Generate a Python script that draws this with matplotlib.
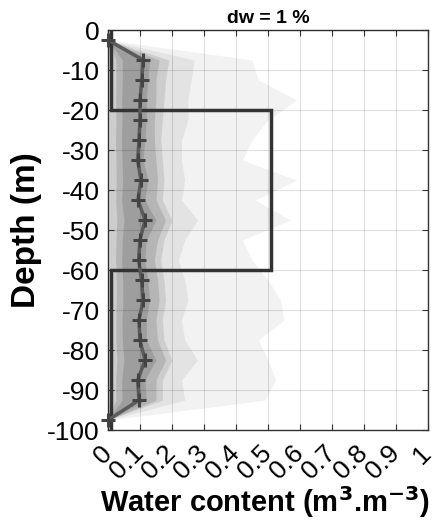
"""
Perfil de contenido de agua - envolventes de percentiles y perfil verdadero
"""

import matplotlib
matplotlib.use('Agg')
import matplotlib.pyplot as plt

plt.rcParams['font.family'] = ['Liberation Sans', 'DejaVu Sans']
plt.rcParams['axes.unicode_minus'] = False

# Profundidades de los puntos del perfil (m)
profundidad = [-2.5, -7.5, -12.5, -17.5, -22.5, -27.5, -32.5, -37.5, -42.5, -47.5,
               -52.5, -57.5, -62.5, -67.5, -72.5, -77.5, -82.5, -87.5, -92.5, -97.5]

# Contenido de agua medio (m3/m3)
wc_medio = [0.0, 0.11, 0.106, 0.10, 0.10, 0.097, 0.093, 0.103, 0.094, 0.116,
            0.10, 0.096, 0.105, 0.11, 0.097, 0.10, 0.116, 0.093, 0.097, 0.0]

# Envolventes (de la mas amplia a la mas estrecha): limite inferior / superior
env1_inf = [0.0] * 20
env1_sup = [0.0, 0.45, 0.47, 0.59, 0.50, 0.45, 0.42, 0.59, 0.46, 0.57,
            0.42, 0.45, 0.50, 0.54, 0.55, 0.47, 0.50, 0.525, 0.49, 0.0]

env2_inf = [0.0] * 20
env2_sup = [0.0, 0.27, 0.26, 0.25, 0.25, 0.23, 0.23, 0.24, 0.23, 0.28,
            0.24, 0.22, 0.24, 0.25, 0.23, 0.24, 0.28, 0.23, 0.24, 0.0]

env3_inf = [0.0, 0.005, 0.005, 0.005, 0.005, 0.005, 0.005, 0.005, 0.005, 0.005,
            0.005, 0.005, 0.005, 0.005, 0.005, 0.005, 0.005, 0.005, 0.005, 0.0]
env3_sup = [0.0, 0.19, 0.18, 0.175, 0.17, 0.165, 0.17, 0.175, 0.17, 0.20,
            0.175, 0.165, 0.175, 0.18, 0.17, 0.175, 0.20, 0.17, 0.17, 0.0]

env4_inf = [0.0, 0.025, 0.025, 0.024, 0.025, 0.024, 0.025, 0.026, 0.024, 0.028,
            0.025, 0.024, 0.026, 0.026, 0.025, 0.025, 0.028, 0.024, 0.025, 0.0]
env4_sup = [0.0, 0.16, 0.15, 0.15, 0.145, 0.145, 0.15, 0.155, 0.15, 0.18,
            0.155, 0.145, 0.155, 0.16, 0.15, 0.155, 0.18, 0.15, 0.15, 0.0]

env5_inf = [0.0, 0.045, 0.045, 0.043, 0.044, 0.042, 0.044, 0.046, 0.043, 0.05,
            0.045, 0.043, 0.046, 0.047, 0.044, 0.045, 0.05, 0.043, 0.044, 0.0]
env5_sup = [0.0, 0.13, 0.125, 0.12, 0.12, 0.115, 0.11, 0.125, 0.115, 0.15,
            0.12, 0.115, 0.125, 0.13, 0.12, 0.12, 0.15, 0.115, 0.12, 0.0]

# Perfil verdadero por capas
capa_techo = [0, -20, -60]
capa_base = [-20, -60, -100]
capa_wc = [0.01, 0.51, 0.01]

etiquetas_x = ['0', '0.1', '0.2', '0.3', '0.4', '0.5', '0.6', '0.7', '0.8', '0.9', '1']

fig = plt.figure(figsize=(4.37, 5.22), dpi=100)
ax = fig.add_axes([0.247, 0.176, 0.732, 0.7665])

envolventes = [
    (env1_inf, env1_sup, '#f2f2f2'),
    (env2_inf, env2_sup, '#e3e3e3'),
    (env3_inf, env3_sup, '#cdcdcd'),
    (env4_inf, env4_sup, '#b5b5b5'),
    (env5_inf, env5_sup, '#9e9e9e'),
]
for inf, sup, color in envolventes:
    ax.fill_betweenx(profundidad, inf, sup, color=color, linewidth=0, zorder=1)

# Perfil verdadero (escalonado)
xs, ys = [], []
for techo, base, wc in zip(capa_techo, capa_base, capa_wc):
    xs += [wc, wc]
    ys += [techo, base]
ax.plot(xs, ys, color='#333333', linewidth=2.5, zorder=4, solid_joinstyle='miter')

# Perfil medio con marcadores
ax.plot(wc_medio, profundidad, color='#5a5a5a', linewidth=2.5, zorder=5)
ax.plot(wc_medio, profundidad, linestyle='none', marker='+', markersize=10,
        markeredgewidth=2.2, color='#444444', zorder=6, clip_on=False)

ax.set_xlim(0, 1)
ax.set_ylim(-100, 0)
ax.set_xticks([i / 10 for i in range(11)])
ax.set_xticklabels(etiquetas_x, rotation=45, ha='right', va='center',
                   rotation_mode='anchor')
ax.set_yticks(range(-100, 1, 10))

ax.tick_params(direction='in', length=4, width=0.8, color='#333333',
               top=True, right=True, labelsize=19, pad=6)
ax.tick_params(axis='x', pad=14)

ax.grid(True, color='#000000', alpha=0.12, linewidth=0.8)
ax.set_axisbelow(False)
for s in ax.spines.values():
    s.set_color('#333333')
    s.set_linewidth(1.0)

ax.set_title('dw = 1 %', fontsize=14, fontweight='bold', pad=5)
ax.set_xlabel('Water content (m$^\\mathbf{3}$.m$^\\mathbf{-3}$)', fontsize=21, fontweight='bold')
ax.set_ylabel('Depth (m)', fontsize=24, fontweight='bold')
ax.xaxis.set_label_coords(0.49, -0.135)
ax.yaxis.set_label_coords(-0.205, 0.5)

fig.savefig('out.png', dpi=100)
plt.close(fig)
